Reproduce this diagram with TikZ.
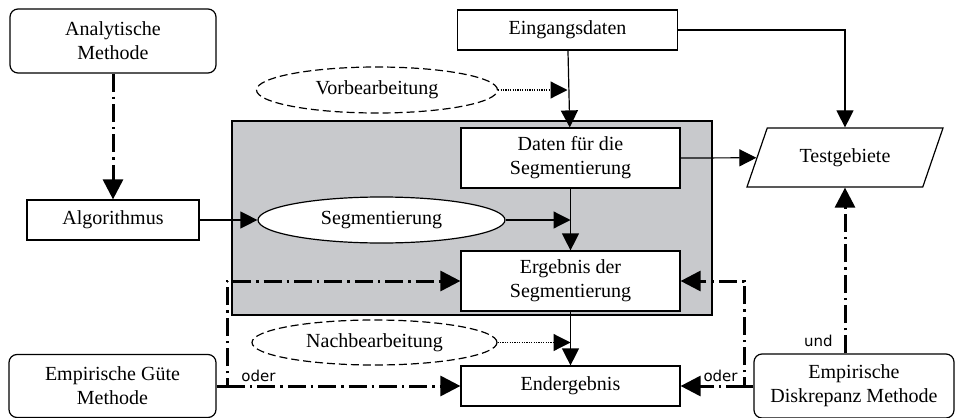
\documentclass[tikz,border=0pt]{standalone}
\usepackage{fontspec}
\setmainfont{Liberation Serif}
\newfontfamily\labelfont{DejaVu Sans}
\usetikzlibrary{arrows.meta,shapes.geometric}
\definecolor{kastengrau}{RGB}{200,201,204}
\tikzset{
  kasten/.style={draw, line width=0.6pt, fill=white, inner sep=0pt, align=center},
  rundkasten/.style={kasten, rounded corners=4pt},
  oval/.style={draw, line width=0.6pt, ellipse, inner sep=0pt, fill=white},
  gestrichelt/.style={oval, dash pattern=on 4pt off 2pt},
  pfeil/.style={line width=0.6pt, -{Triangle[length=8.5pt,width=8.5pt]}},
  punktpfeil/.style={pfeil, dash pattern=on 0.6pt off 0.6pt},
  strichpunkt/.style={line width=1.5pt, dash pattern=on 9pt off 2.5pt on 1.2pt off 2.5pt,
    -{Triangle[length=10pt,width=10pt]}},
  marke/.style={font=\labelfont\fontsize{7.5}{9}\selectfont, inner sep=0pt}
}
\begin{document}
\begin{tikzpicture}[x=0.5pt, y=-0.5pt]
\useasboundingbox (0,0) rectangle (955,418);
% grauer Bereich
\fill[kastengrau] (232,121) rectangle (712,315);
\draw[line width=0.6pt] (232,121) rectangle (712,315);
% Kaesten
\node[rundkasten, minimum width=103pt, minimum height=32pt] (ana) at (113,41) {Analytische\\Methode};
\node[kasten, minimum width=110pt, minimum height=20pt] (eing) at (567.5,30) {Eingangsdaten};
\node[gestrichelt, minimum width=120.5pt, minimum height=23pt] (vor) at (377,90) {Vorbearbeitung};
\node[kasten, minimum width=109.5pt, minimum height=30pt] (daten) at (570.5,158) {Daten für die\\Segmentierung};
\node[draw, line width=0.6pt, trapezium, trapezium stretches=true, trapezium left angle=57,
  trapezium right angle=123, minimum width=98.5pt, minimum height=29.5pt, inner sep=0pt] (test) at (845,157.5) {Testgebiete};
\node[kasten, minimum width=86pt, minimum height=20pt] (alg) at (113,220) {Algorithmus};
\node[oval, minimum width=123.5pt, minimum height=23pt] (seg) at (381.5,220) {Segmentierung};
\node[kasten, minimum width=109.5pt, minimum height=30pt] (erg) at (570.5,281) {Ergebnis der\\Segmentierung};
\node[gestrichelt, minimum width=122.5pt, minimum height=22.5pt] (nach) at (374.5,342.5) {Nachbearbeitung};
\node[kasten, minimum width=109.5pt, minimum height=20pt] (end) at (570.5,386) {Endergebnis};
\node[rundkasten, minimum width=103.5pt, minimum height=31.5pt] (gute) at (112.5,386) {Empirische Güte\\Methode};
\node[rundkasten, minimum width=100pt, minimum height=32pt] (disk) at (854,386) {Empirische\\Diskrepanz Methode};
% Hilfspunkte
\coordinate (vorziel) at (eing.south |- vor.east);
\coordinate (segziel) at (daten.south |- seg.east);
\coordinate (nachziel) at (erg.south |- nach.east);
\coordinate (links) at (227,386);
\coordinate (rechts) at (744,386);
% Verbindungen
\draw[strichpunkt] (ana) -- (alg);
\draw[pfeil] (eing) -- (daten);
\draw[punktpfeil] (vor.east) -- (vorziel);
\draw[pfeil] (eing.east) -| (test.north);
\draw[pfeil] (daten.east) -- (test);
\draw[pfeil] (alg) -- (seg);
\draw[pfeil] (seg.east) -- (segziel);
\draw[pfeil] (daten) -- (erg);
\draw[punktpfeil] (nach.east) -- (nachziel);
\draw[pfeil] (erg) -- (end);
\draw[strichpunkt] (gute.east) -- (links) |- (erg.west);
\draw[strichpunkt] (links) -- (end.west);
\draw[strichpunkt] (disk.west) -- (rechts) |- (erg.east);
\draw[strichpunkt] (rechts) -- (end.east);
\draw[strichpunkt] (disk.north -| test.south) -- (test.south);
% Beschriftungen
\node[marke, anchor=south west] (oderl) at ([xshift=7pt, yshift=2pt]links) {oder};
\node[marke, anchor=south east] (oderr) at ([xshift=-3pt, yshift=2pt]rechts) {oder};
\node[marke, anchor=south east] (und) at ([xshift=-6pt, yshift=3pt]disk.north -| test.south) {und};
\end{tikzpicture}
\end{document}
